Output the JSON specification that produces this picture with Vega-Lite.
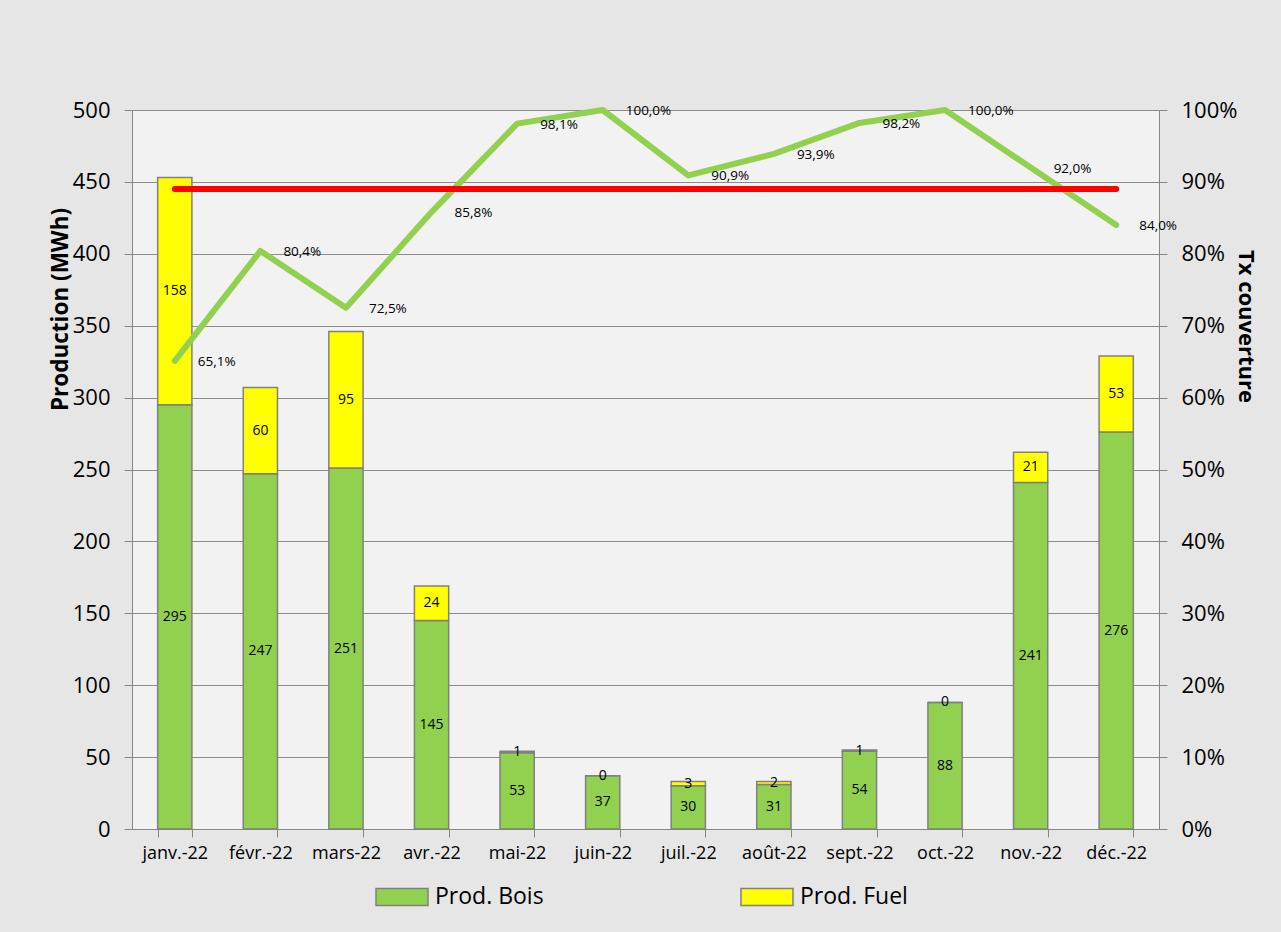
{
  "$schema": "https://vega.github.io/schema/vega-lite/v6.json",
  "width": 1027,
  "height": 719,
  "autosize": {"type": "none"},
  "padding": {"left": 132, "top": 110, "right": 122, "bottom": 103},
  "datasets": {
    "prod": [
      {"mois": "janv.-22", "type": "Prod. Bois", "valeur": 295},
      {"mois": "janv.-22", "type": "Prod. Fuel", "valeur": 158},
      {"mois": "févr.-22", "type": "Prod. Bois", "valeur": 247},
      {"mois": "févr.-22", "type": "Prod. Fuel", "valeur": 60},
      {"mois": "mars-22", "type": "Prod. Bois", "valeur": 251},
      {"mois": "mars-22", "type": "Prod. Fuel", "valeur": 95},
      {"mois": "avr.-22", "type": "Prod. Bois", "valeur": 145},
      {"mois": "avr.-22", "type": "Prod. Fuel", "valeur": 24},
      {"mois": "mai-22", "type": "Prod. Bois", "valeur": 53},
      {"mois": "mai-22", "type": "Prod. Fuel", "valeur": 1},
      {"mois": "juin-22", "type": "Prod. Bois", "valeur": 37},
      {"mois": "juin-22", "type": "Prod. Fuel", "valeur": 0},
      {"mois": "juil.-22", "type": "Prod. Bois", "valeur": 30},
      {"mois": "juil.-22", "type": "Prod. Fuel", "valeur": 3},
      {"mois": "août-22", "type": "Prod. Bois", "valeur": 31},
      {"mois": "août-22", "type": "Prod. Fuel", "valeur": 2},
      {"mois": "sept.-22", "type": "Prod. Bois", "valeur": 54},
      {"mois": "sept.-22", "type": "Prod. Fuel", "valeur": 1},
      {"mois": "oct.-22", "type": "Prod. Bois", "valeur": 88},
      {"mois": "oct.-22", "type": "Prod. Fuel", "valeur": 0},
      {"mois": "nov.-22", "type": "Prod. Bois", "valeur": 241},
      {"mois": "nov.-22", "type": "Prod. Fuel", "valeur": 21},
      {"mois": "déc.-22", "type": "Prod. Bois", "valeur": 276},
      {"mois": "déc.-22", "type": "Prod. Fuel", "valeur": 53}
    ],
    "tx": [
      {"mois": "janv.-22", "tx": 0.651},
      {"mois": "févr.-22", "tx": 0.804},
      {"mois": "mars-22", "tx": 0.725},
      {"mois": "avr.-22", "tx": 0.858},
      {"mois": "mai-22", "tx": 0.981},
      {"mois": "juin-22", "tx": 1.0},
      {"mois": "juil.-22", "tx": 0.909},
      {"mois": "août-22", "tx": 0.939},
      {"mois": "sept.-22", "tx": 0.982},
      {"mois": "oct.-22", "tx": 1.0},
      {"mois": "nov.-22", "tx": 0.92},
      {"mois": "déc.-22", "tx": 0.84}
    ],
    "objectif": [
      {"mois": "janv.-22", "obj": 0.89},
      {"mois": "déc.-22", "obj": 0.89}
    ]
  },
  "layer": [
    {
      "data": {"name": "prod"},
      "layer": [
        {
          "mark": {"type": "bar", "stroke": "#808080", "strokeWidth": 1.5, "opacity": 1},
          "encoding": {
            "x": {
              "field": "mois", "type": "nominal",
              "scale": {"domain": ["janv.-22","févr.-22","mars-22","avr.-22","mai-22","juin-22","juil.-22","août-22","sept.-22","oct.-22","nov.-22","déc.-22"], "paddingInner": 0.6, "paddingOuter": 0.3},
              "axis": {"title": null, "labelAngle": 0, "labelFontSize": 18, "labelColor": "#000000", "tickBand": "extent", "tickSize": 8, "tickColor": "#868686", "domainColor": "#868686", "labelPadding": 7, "grid": false}
            },
            "y": {
              "field": "valeur", "type": "quantitative", "stack": "zero",
              "scale": {"domain": [0, 500], "nice": false},
              "axis": {"values": [0,50,100,150,200,250,300,350,400,450,500], "grid": true, "gridColor": "#8c8c8c", "gridWidth": 1, "domainColor": "#868686", "tickColor": "#868686", "tickSize": 8, "labelFontSize": 22, "labelColor": "#000000", "labelPadding": 14, "title": "Production (MWh)", "titleFontSize": 22.5, "titleFontWeight": "bold", "titleColor": "#000000", "titleAngle": -90, "titleX": -72, "titleY": 199, "titleAlign": "center", "titleBaseline": "middle"}
            },
            "color": {
              "field": "type", "type": "nominal",
              "scale": {"domain": ["Prod. Bois", "Prod. Fuel"], "range": ["#92d050", "#ffff00"]},
              "legend": {"title": null, "orient": "none", "legendX": 243, "legendY": 760, "direction": "horizontal", "columns": 2, "columnPadding": 194, "symbolType": "M-1,-0.327H1V0.327H-1Z", "symbolSize": 2704, "symbolStrokeColor": "#808080", "symbolStrokeWidth": 1.5, "symbolOpacity": 1, "labelFontSize": 23, "labelColor": "#000000", "labelOffset": 6}
            },
            "order": {"field": "type", "sort": "ascending"}
          }
        },
        {
          "transform": [
            {"stack": "valeur", "groupby": ["mois"], "sort": [{"field": "type", "order": "ascending"}], "as": ["s0", "s1"]},
            {"fold": ["s0", "s1"], "as": ["k", "v"]},
            {"aggregate": [{"op": "mean", "field": "v", "as": "mid"}], "groupby": ["mois", "type", "valeur"]}
          ],
          "mark": {"type": "text", "fontSize": 14, "color": "#000000", "baseline": "middle", "align": "center"},
          "encoding": {
            "x": {"field": "mois", "type": "nominal"},
            "y": {"field": "mid", "type": "quantitative"},
            "text": {"field": "valeur", "type": "quantitative"}
          }
        }
      ]
    },
    {
      "layer": [
        {
          "data": {"name": "tx"},
          "mark": {"type": "line", "color": "#92d050", "strokeWidth": 6, "strokeCap": "round", "strokeJoin": "round"},
          "encoding": {
            "x": {"field": "mois", "type": "nominal"},
            "y": {
              "field": "tx", "type": "quantitative",
              "scale": {"domain": [0, 1], "nice": false},
              "axis": {"orient": "right", "values": [0,0.1,0.2,0.3,0.4,0.5,0.6,0.7,0.8,0.9,1], "format": ".0%", "grid": false, "domainColor": "#868686", "tickColor": "#868686", "tickSize": 8, "labelFontSize": 22, "labelColor": "#000000", "labelPadding": 14, "title": "Tx couverture", "titleFontSize": 22, "titleFontWeight": "bold", "titleColor": "#000000", "titleAngle": 90, "titleX": 86, "titleY": 216, "titleAlign": "center", "titleBaseline": "middle"}
            }
          }
        },
        {
          "data": {"name": "tx"},
          "mark": {"type": "text", "fontSize": 13.5, "color": "#000000", "align": "left", "baseline": "middle", "dx": 23, "dy": 1},
          "encoding": {
            "x": {"field": "mois", "type": "nominal"},
            "y": {"field": "tx", "type": "quantitative"},
            "text": {"field": "tx", "type": "quantitative", "format": ".1%"}
          }
        },
        {
          "data": {"name": "objectif"},
          "mark": {"type": "line", "color": "#ff0000", "strokeWidth": 6, "strokeCap": "round"},
          "encoding": {
            "x": {"field": "mois", "type": "nominal"},
            "y": {"field": "obj", "type": "quantitative"}
          }
        }
      ]
    }
  ],
  "resolve": {"scale": {"y": "independent"}},
  "config": {
    "background": "#e6e6e6",
    "view": {"fill": "#f2f2f2", "stroke": null},
    "font": "Open Sans",
    "locale": {"number": {"decimal": ",", "thousands": " ", "grouping": [3], "currency": ["", " €"]}}
  }
}
